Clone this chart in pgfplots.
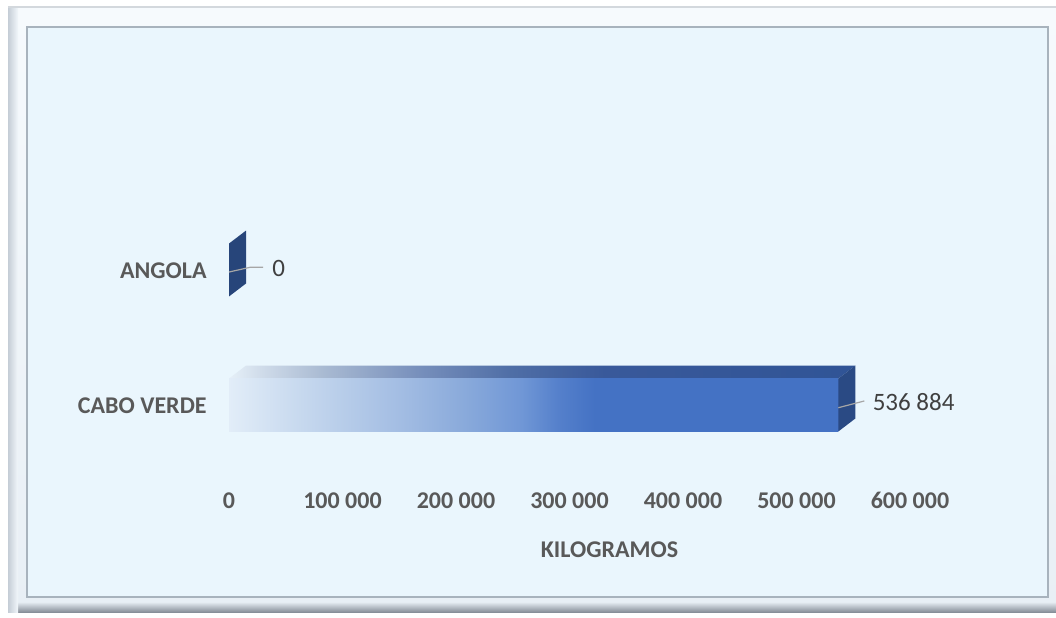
\documentclass[border=0pt]{standalone}
\usepackage{fontspec}
\setmainfont{Carlito}
\usepackage{pgfplots}
\pgfplotsset{compat=1.18}

\definecolor{panel}{HTML}{EAF6FD}
\definecolor{panelline}{HTML}{A8B3BD}
\definecolor{frameA}{HTML}{F6FAFD}
\definecolor{frameB}{HTML}{E8EFF5}
\definecolor{shadowA}{HTML}{E6EDF3}
\definecolor{shadowB}{HTML}{878F99}
\definecolor{leftA}{HTML}{C5CDD6}
\definecolor{leftB}{HTML}{F2F7FB}
\definecolor{topline}{HTML}{D3D8DD}
\definecolor{ticktext}{HTML}{595959}
\definecolor{valtext}{HTML}{404040}
\definecolor{leader}{HTML}{A6A6A6}
\definecolor{barblue}{HTML}{4472C4}
\definecolor{sideblue}{HTML}{2A4A84}
\definecolor{sidezero}{HTML}{27457A}
\definecolor{fA}{HTML}{E2EDF8}
\definecolor{fB}{HTML}{C6D8EE}
\definecolor{fC}{HTML}{A3BDE3}
\definecolor{fD}{HTML}{8BABDB}
\definecolor{fE}{HTML}{7097D6}
\definecolor{fF}{HTML}{5580CB}
\definecolor{tA}{HTML}{E6F0F8}
\definecolor{tB}{HTML}{D0DCEA}
\definecolor{tC}{HTML}{A9BAD2}
\definecolor{tD}{HTML}{7890BC}
\definecolor{tE}{HTML}{4F6EA6}
\definecolor{tF}{HTML}{39599A}
\definecolor{tG}{HTML}{305496}

% front face fades in from the left, solid from about the middle
\pgfdeclarehorizontalshading{frontfade}{100bp}{color(0bp)=(fA); color(25bp)=(fA);
  color(31bp)=(fB); color(39bp)=(fC); color(44bp)=(fD); color(49bp)=(fE);
  color(52bp)=(fF); color(55bp)=(barblue); color(100bp)=(barblue)}
\pgfdeclarehorizontalshading{topfade}{100bp}{color(0bp)=(tA); color(25bp)=(tA);
  color(27.5bp)=(tB); color(32.5bp)=(tC); color(40bp)=(tD); color(47.5bp)=(tE);
  color(55bp)=(tF); color(75bp)=(tG); color(100bp)=(tG)}

\begin{document}
\begin{tikzpicture}
\useasboundingbox (0pt,0pt) rectangle (528pt,308.5pt);
\fill[white] (0pt,0pt) rectangle (528pt,308.5pt);
% bevelled frame
\shade[top color=frameA, bottom color=frameB] (4pt,2.5pt) rectangle (528pt,305pt);
\shade[top color=shadowA, bottom color=shadowB] (4pt,2.5pt) rectangle (528pt,7.5pt);
\shade[left color=leftA, right color=leftB] (4pt,2.5pt) rectangle (9pt,305pt);
\draw[color=topline, line width=0.8pt] (4pt,305pt) -- (528pt,305pt);
\filldraw[fill=panel, draw=panelline, line width=0.6pt] (13.5pt,10pt) rectangle (524pt,295pt);

\begin{axis}[
    at={(114.5pt,72.25pt)}, anchor=south west,
    scale only axis,
    width=340.5pt, height=135pt,
    xmin=0, xmax=600000,
    ymin=-0.5, ymax=1.5,
    clip=false,
    axis line style={draw=none},
    tick style={draw=none},
    scaled x ticks=false,
    xtick={0,100000,200000,300000,400000,500000,600000},
    xticklabels={0,100 000,200 000,300 000,400 000,500 000,600 000},
    xticklabel style={font=\fontsize{12}{14}\selectfont\bfseries, text=ticktext, anchor=base, yshift=-17.75pt},
    ytick={0,1},
    yticklabels={CABO VERDE,ANGOLA},
    yticklabel style={font=\fontsize{12}{14}\selectfont\bfseries, text=ticktext, anchor=base east, inner sep=0pt, xshift=-11pt, yshift=-4pt},
    xlabel={KILOGRAMOS},
    xlabel style={font=\fontsize{12}{14}\selectfont\bfseries, text=ticktext, at={(axis description cs:0.5588,0)}, anchor=base, inner sep=0pt, yshift=-42.25pt},
]
% CABO VERDE: top face, front face, side face
\addplot[draw=none, shading=topfade] coordinates {(0,0.196) (536884,0.196) (551862,0.292) (14978,0.292)} -- cycle;
\addplot[xbar, bar width=26.5pt, bar shift=0pt, draw=none, shading=frontfade,
    nodes near coords={536 884},
    nodes near coords style={font=\fontsize{12.5}{14}\selectfont, text=valtext, anchor=base west, inner sep=0pt, xshift=17pt, yshift=-2.75pt}]
    coordinates {(536884,0)};
\addplot[draw=none, fill=sideblue] coordinates {(536884,-0.196) (536884,0.196) (551862,0.292) (551862,-0.100)} -- cycle;
\addplot[leader, line width=0.6pt] coordinates {(536884,-0.02) (559790,0.03)};
% ANGOLA: value 0, only the side face shows
\addplot[draw=none, fill=sidezero] coordinates {(0,0.804) (0,1.196) (14978,1.292) (14978,0.900)} -- cycle;
\addplot[xbar, bar width=26.5pt, bar shift=0pt, draw=none,
    nodes near coords={0},
    nodes near coords style={font=\fontsize{12.5}{14}\selectfont, text=valtext, anchor=base west, inner sep=0pt, xshift=21.5pt, yshift=-3.25pt}]
    coordinates {(0,1)};
\addplot[leader, line width=0.6pt] coordinates {(0,0.985) (18500,1.02) (30000,1.02)};
\end{axis}
\end{tikzpicture}
\end{document}
